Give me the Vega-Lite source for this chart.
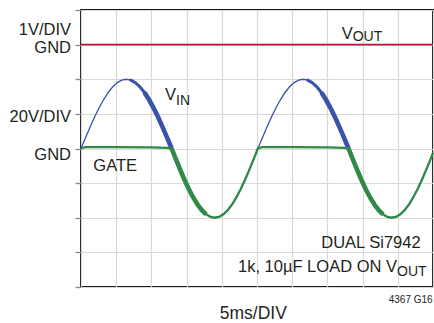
{
  "$schema": "https://vega.github.io/schema/vega-lite/v6.json",
  "autosize": {"type": "none"},
  "width": 352,
  "height": 277,
  "padding": {"left": 81, "top": 10, "right": 1, "bottom": 36},
  "background": "#ffffff",
  "config": {
    "view": {"stroke": "#1a1a1a", "strokeWidth": 2},
    "text": {"font": "Liberation Sans, Arial, sans-serif", "color": "#231f20"}
  },
  "datasets": {
    "traces": [
      {"trace": "VOUT", "cycle": 1, "t": 0, "v": 3},
      {"trace": "VOUT", "cycle": 1, "t": 10, "v": 3},

      {"trace": "VIN", "cycle": 1, "t": 0.000, "v": 0},
      {"trace": "VIN", "cycle": 1, "t": 0.129, "v": 0.313},
      {"trace": "VIN", "cycle": 1, "t": 0.258, "v": 0.618},
      {"trace": "VIN", "cycle": 1, "t": 0.386, "v": 0.908},
      {"trace": "VIN", "cycle": 1, "t": 0.515, "v": 1.176},
      {"trace": "VIN", "cycle": 1, "t": 0.644, "v": 1.414},
      {"trace": "VIN", "cycle": 1, "t": 0.773, "v": 1.618},
      {"trace": "VIN", "cycle": 1, "t": 0.901, "v": 1.782},
      {"trace": "VIN", "cycle": 1, "t": 1.030, "v": 1.902},
      {"trace": "VIN", "cycle": 1, "t": 1.159, "v": 1.975},
      {"trace": "VIN", "cycle": 1, "t": 1.288, "v": 2.0},
      {"trace": "VIN", "cycle": 1, "t": 1.416, "v": 1.975},
      {"trace": "VIN", "cycle": 1, "t": 1.545, "v": 1.902},
      {"trace": "VIN", "cycle": 1, "t": 1.674, "v": 1.782},
      {"trace": "VIN", "cycle": 1, "t": 1.803, "v": 1.618},
      {"trace": "VIN", "cycle": 1, "t": 1.931, "v": 1.414},
      {"trace": "VIN", "cycle": 1, "t": 2.060, "v": 1.176},
      {"trace": "VIN", "cycle": 1, "t": 2.189, "v": 0.908},
      {"trace": "VIN", "cycle": 1, "t": 2.318, "v": 0.618},
      {"trace": "VIN", "cycle": 1, "t": 2.446, "v": 0.313},
      {"trace": "VIN", "cycle": 1, "t": 2.575, "v": 0},
      {"trace": "VIN", "cycle": 1, "t": 2.698, "v": -0.313},
      {"trace": "VIN", "cycle": 1, "t": 2.820, "v": -0.618},
      {"trace": "VIN", "cycle": 1, "t": 2.943, "v": -0.908},
      {"trace": "VIN", "cycle": 1, "t": 3.065, "v": -1.176},
      {"trace": "VIN", "cycle": 1, "t": 3.188, "v": -1.414},
      {"trace": "VIN", "cycle": 1, "t": 3.310, "v": -1.618},
      {"trace": "VIN", "cycle": 1, "t": 3.433, "v": -1.782},
      {"trace": "VIN", "cycle": 1, "t": 3.555, "v": -1.902},
      {"trace": "VIN", "cycle": 1, "t": 3.678, "v": -1.975},
      {"trace": "VIN", "cycle": 1, "t": 3.800, "v": -2.0},
      {"trace": "VIN", "cycle": 1, "t": 3.923, "v": -1.975},
      {"trace": "VIN", "cycle": 1, "t": 4.045, "v": -1.902},
      {"trace": "VIN", "cycle": 1, "t": 4.168, "v": -1.782},
      {"trace": "VIN", "cycle": 1, "t": 4.290, "v": -1.618},
      {"trace": "VIN", "cycle": 1, "t": 4.413, "v": -1.414},
      {"trace": "VIN", "cycle": 1, "t": 4.535, "v": -1.176},
      {"trace": "VIN", "cycle": 1, "t": 4.658, "v": -0.908},
      {"trace": "VIN", "cycle": 1, "t": 4.780, "v": -0.618},
      {"trace": "VIN", "cycle": 1, "t": 4.903, "v": -0.313},
      {"trace": "VIN", "cycle": 2, "t": 5.025, "v": 0},
      {"trace": "VIN", "cycle": 2, "t": 5.154, "v": 0.313},
      {"trace": "VIN", "cycle": 2, "t": 5.283, "v": 0.618},
      {"trace": "VIN", "cycle": 2, "t": 5.411, "v": 0.908},
      {"trace": "VIN", "cycle": 2, "t": 5.540, "v": 1.176},
      {"trace": "VIN", "cycle": 2, "t": 5.669, "v": 1.414},
      {"trace": "VIN", "cycle": 2, "t": 5.798, "v": 1.618},
      {"trace": "VIN", "cycle": 2, "t": 5.926, "v": 1.782},
      {"trace": "VIN", "cycle": 2, "t": 6.055, "v": 1.902},
      {"trace": "VIN", "cycle": 2, "t": 6.184, "v": 1.975},
      {"trace": "VIN", "cycle": 2, "t": 6.313, "v": 2.0},
      {"trace": "VIN", "cycle": 2, "t": 6.441, "v": 1.975},
      {"trace": "VIN", "cycle": 2, "t": 6.570, "v": 1.902},
      {"trace": "VIN", "cycle": 2, "t": 6.699, "v": 1.782},
      {"trace": "VIN", "cycle": 2, "t": 6.828, "v": 1.618},
      {"trace": "VIN", "cycle": 2, "t": 6.956, "v": 1.414},
      {"trace": "VIN", "cycle": 2, "t": 7.085, "v": 1.176},
      {"trace": "VIN", "cycle": 2, "t": 7.214, "v": 0.908},
      {"trace": "VIN", "cycle": 2, "t": 7.343, "v": 0.618},
      {"trace": "VIN", "cycle": 2, "t": 7.471, "v": 0.313},
      {"trace": "VIN", "cycle": 2, "t": 7.600, "v": 0},
      {"trace": "VIN", "cycle": 2, "t": 7.723, "v": -0.313},
      {"trace": "VIN", "cycle": 2, "t": 7.845, "v": -0.618},
      {"trace": "VIN", "cycle": 2, "t": 7.968, "v": -0.908},
      {"trace": "VIN", "cycle": 2, "t": 8.090, "v": -1.176},
      {"trace": "VIN", "cycle": 2, "t": 8.213, "v": -1.414},
      {"trace": "VIN", "cycle": 2, "t": 8.335, "v": -1.618},
      {"trace": "VIN", "cycle": 2, "t": 8.458, "v": -1.782},
      {"trace": "VIN", "cycle": 2, "t": 8.580, "v": -1.902},
      {"trace": "VIN", "cycle": 2, "t": 8.703, "v": -1.975},
      {"trace": "VIN", "cycle": 2, "t": 8.825, "v": -2.0},
      {"trace": "VIN", "cycle": 2, "t": 8.948, "v": -1.975},
      {"trace": "VIN", "cycle": 2, "t": 9.070, "v": -1.902},
      {"trace": "VIN", "cycle": 2, "t": 9.193, "v": -1.782},
      {"trace": "VIN", "cycle": 2, "t": 9.315, "v": -1.618},
      {"trace": "VIN", "cycle": 2, "t": 9.438, "v": -1.414},
      {"trace": "VIN", "cycle": 2, "t": 9.560, "v": -1.176},
      {"trace": "VIN", "cycle": 2, "t": 9.683, "v": -0.908},
      {"trace": "VIN", "cycle": 2, "t": 9.805, "v": -0.618},
      {"trace": "VIN", "cycle": 2, "t": 9.928, "v": -0.313},
      {"trace": "VIN", "cycle": 2, "t": 10.000, "v": -0.128},

      {"trace": "GATE", "cycle": 1, "t": 0.000, "v": 0},
      {"trace": "GATE", "cycle": 1, "t": 0.120, "v": 0.04},
      {"trace": "GATE", "cycle": 1, "t": 1.000, "v": 0.04},
      {"trace": "GATE", "cycle": 1, "t": 2.000, "v": 0.03},
      {"trace": "GATE", "cycle": 1, "t": 2.450, "v": 0.02},
      {"trace": "GATE", "cycle": 1, "t": 2.575, "v": 0},
      {"trace": "GATE", "cycle": 1, "t": 2.698, "v": -0.313},
      {"trace": "GATE", "cycle": 1, "t": 2.820, "v": -0.618},
      {"trace": "GATE", "cycle": 1, "t": 2.943, "v": -0.908},
      {"trace": "GATE", "cycle": 1, "t": 3.065, "v": -1.176},
      {"trace": "GATE", "cycle": 1, "t": 3.188, "v": -1.414},
      {"trace": "GATE", "cycle": 1, "t": 3.310, "v": -1.618},
      {"trace": "GATE", "cycle": 1, "t": 3.433, "v": -1.782},
      {"trace": "GATE", "cycle": 1, "t": 3.555, "v": -1.902},
      {"trace": "GATE", "cycle": 1, "t": 3.678, "v": -1.975},
      {"trace": "GATE", "cycle": 1, "t": 3.800, "v": -2.0},
      {"trace": "GATE", "cycle": 1, "t": 3.923, "v": -1.975},
      {"trace": "GATE", "cycle": 1, "t": 4.045, "v": -1.902},
      {"trace": "GATE", "cycle": 1, "t": 4.168, "v": -1.782},
      {"trace": "GATE", "cycle": 1, "t": 4.290, "v": -1.618},
      {"trace": "GATE", "cycle": 1, "t": 4.413, "v": -1.414},
      {"trace": "GATE", "cycle": 1, "t": 4.535, "v": -1.176},
      {"trace": "GATE", "cycle": 1, "t": 4.658, "v": -0.908},
      {"trace": "GATE", "cycle": 1, "t": 4.780, "v": -0.618},
      {"trace": "GATE", "cycle": 1, "t": 4.903, "v": -0.313},
      {"trace": "GATE", "cycle": 2, "t": 5.025, "v": 0},
      {"trace": "GATE", "cycle": 2, "t": 5.145, "v": 0.04},
      {"trace": "GATE", "cycle": 2, "t": 6.025, "v": 0.04},
      {"trace": "GATE", "cycle": 2, "t": 7.025, "v": 0.03},
      {"trace": "GATE", "cycle": 2, "t": 7.475, "v": 0.02},
      {"trace": "GATE", "cycle": 2, "t": 7.600, "v": 0},
      {"trace": "GATE", "cycle": 2, "t": 7.723, "v": -0.313},
      {"trace": "GATE", "cycle": 2, "t": 7.845, "v": -0.618},
      {"trace": "GATE", "cycle": 2, "t": 7.968, "v": -0.908},
      {"trace": "GATE", "cycle": 2, "t": 8.090, "v": -1.176},
      {"trace": "GATE", "cycle": 2, "t": 8.213, "v": -1.414},
      {"trace": "GATE", "cycle": 2, "t": 8.335, "v": -1.618},
      {"trace": "GATE", "cycle": 2, "t": 8.458, "v": -1.782},
      {"trace": "GATE", "cycle": 2, "t": 8.580, "v": -1.902},
      {"trace": "GATE", "cycle": 2, "t": 8.703, "v": -1.975},
      {"trace": "GATE", "cycle": 2, "t": 8.825, "v": -2.0},
      {"trace": "GATE", "cycle": 2, "t": 8.948, "v": -1.975},
      {"trace": "GATE", "cycle": 2, "t": 9.070, "v": -1.902},
      {"trace": "GATE", "cycle": 2, "t": 9.193, "v": -1.782},
      {"trace": "GATE", "cycle": 2, "t": 9.315, "v": -1.618},
      {"trace": "GATE", "cycle": 2, "t": 9.438, "v": -1.414},
      {"trace": "GATE", "cycle": 2, "t": 9.560, "v": -1.176},
      {"trace": "GATE", "cycle": 2, "t": 9.683, "v": -0.908},
      {"trace": "GATE", "cycle": 2, "t": 9.805, "v": -0.618},
      {"trace": "GATE", "cycle": 2, "t": 9.928, "v": -0.313},
      {"trace": "GATE", "cycle": 2, "t": 10.000, "v": -0.128}
    ],
    "labels": [
      {"role": "right", "text": "1V/DIV", "t": -0.284, "v": 3.269},
      {"role": "right", "text": "GND", "t": -0.284, "v": 2.769},
      {"role": "right", "text": "20V/DIV", "t": -0.284, "v": 0.763},
      {"role": "right", "text": "GND", "t": -0.284, "v": -0.344},
      {"role": "right", "text": "V", "t": 7.719, "v": 3.153},
      {"role": "sub", "text": "OUT", "t": 7.719, "v": 3.104},
      {"role": "right", "text": "V", "t": 2.699, "v": 1.39},
      {"role": "sub", "text": "IN", "t": 2.699, "v": 1.266},
      {"role": "right", "text": "GATE", "t": 1.591, "v": -0.662},
      {"role": "right", "text": "DUAL Si7942", "t": 9.648, "v": -2.879},
      {"role": "right", "text": "1k, 10µF LOAD ON V", "t": 8.977, "v": -3.572},
      {"role": "sub", "text": "OUT", "t": 8.977, "v": -3.668},
      {"role": "xtitle", "text": "5ms/DIV", "t": 4.895, "v": -4.925},
      {"role": "code", "text": "4367 G16", "t": 9.99, "v": -4.448}
    ]
  },
  "encoding": {
    "x": {
      "field": "t", "type": "quantitative",
      "scale": {"domain": [0, 10], "nice": false, "zero": false},
      "axis": {"values": [0, 1, 2, 3, 4, 5, 6, 7, 8, 9, 10], "labels": false, "ticks": false, "domain": false, "title": null, "gridColor": "#d9d9d9", "gridWidth": 1.2}
    },
    "y": {
      "field": "v", "type": "quantitative",
      "scale": {"domain": [-4, 4], "nice": false, "zero": false},
      "axis": {
        "values": [-4, -3, -2, -1, 0, 1, 2, 3, 4], "labels": false, "domain": false, "title": null,
        "gridColor": "#d9d9d9", "gridWidth": 1.2, "tickSize": 6, "tickWidth": 1.3,
        "encode": {"ticks": {"update": {"stroke": {"signal": "datum.value === 3 ? '#b3173e' : datum.value === 0 ? '#2f8a48' : 'transparent'"}}}}
      }
    }
  },
  "layer": [
    {
      "data": {"name": "traces"},
      "transform": [{"filter": "datum.trace === 'VOUT'"}],
      "mark": {"type": "line", "color": "#b3173e", "strokeWidth": 1.6}
    },
    {
      "data": {"name": "traces"},
      "transform": [{"filter": "datum.trace === 'VIN'"}],
      "mark": {"type": "line", "color": "#3a52a8", "strokeWidth": 1.3}
    },
    {
      "data": {"name": "traces"},
      "transform": [{"filter": "datum.trace === 'VIN' && ((datum.t >= 1.41 && datum.t <= 2.58) || (datum.t >= 6.43 && datum.t <= 7.61))"}],
      "mark": {"type": "line", "color": "#3a52a8", "strokeWidth": 3, "strokeCap": "round"},
      "encoding": {"detail": {"field": "cycle"}}
    },
    {
      "data": {"name": "traces"},
      "transform": [{"filter": "datum.trace === 'VIN' && ((datum.t >= 1.80 && datum.t <= 2.58) || (datum.t >= 6.82 && datum.t <= 7.61))"}],
      "mark": {"type": "line", "color": "#3a52a8", "strokeWidth": 4.6},
      "encoding": {"detail": {"field": "cycle"}}
    },
    {
      "data": {"name": "traces"},
      "transform": [{"filter": "datum.trace === 'GATE'"}],
      "mark": {"type": "line", "color": "#2f8a48", "strokeWidth": 2.3}
    },
    {
      "data": {"name": "traces"},
      "transform": [{"filter": "datum.trace === 'GATE' && ((datum.t >= 2.57 && datum.t <= 3.56) || (datum.t >= 7.59 && datum.t <= 8.59))"}],
      "mark": {"type": "line", "color": "#2f8a48", "strokeWidth": 4.6},
      "encoding": {"detail": {"field": "cycle"}}
    },
    {
      "data": {"name": "labels"},
      "transform": [{"filter": "datum.role === 'right'"}],
      "mark": {"type": "text", "align": "right", "baseline": "alphabetic", "fontSize": 16.5},
      "encoding": {"text": {"field": "text"}}
    },
    {
      "data": {"name": "labels"},
      "transform": [{"filter": "datum.role === 'sub'"}],
      "mark": {"type": "text", "align": "left", "baseline": "alphabetic", "fontSize": 14},
      "encoding": {"text": {"field": "text"}}
    },
    {
      "data": {"name": "labels"},
      "transform": [{"filter": "datum.role === 'xtitle'"}],
      "mark": {"type": "text", "align": "center", "baseline": "alphabetic", "fontSize": 17.5},
      "encoding": {"text": {"field": "text"}}
    },
    {
      "data": {"name": "labels"},
      "transform": [{"filter": "datum.role === 'code'"}],
      "mark": {"type": "text", "align": "right", "baseline": "alphabetic", "fontSize": 10},
      "encoding": {"text": {"field": "text"}}
    }
  ]
}
